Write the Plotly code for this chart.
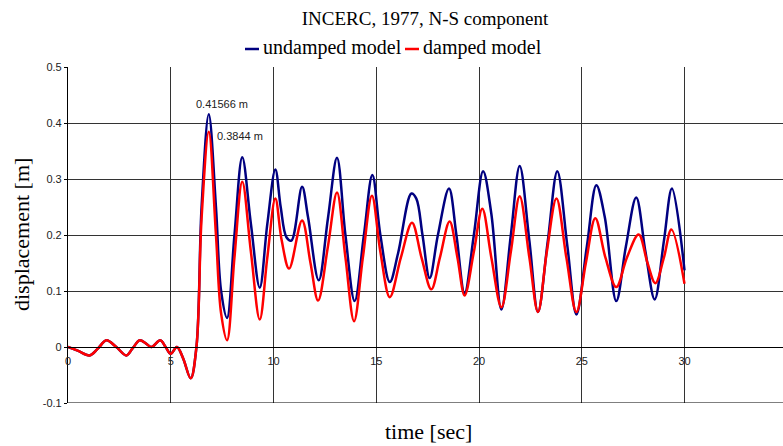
import plotly.graph_objects as go

# time [s] and displacement [m]
t_undamped = [0, 0.5, 1.05, 1.45, 1.87, 2.35, 2.84, 3.15, 3.49, 3.8, 4.06, 4.49, 4.75, 5.0, 5.3, 5.6, 5.97,
              6.25, 6.5, 6.85, 7.2, 7.45, 7.74, 8.1, 8.48, 8.9, 9.33, 9.7, 10.09, 10.35, 10.63, 10.87,
              11.39, 11.68, 12.2, 12.65, 13.09, 13.5, 13.95, 14.4, 14.81, 15.2, 15.66, 16.06, 16.71,
              16.95, 17.25, 17.6, 18.0, 18.54, 18.9, 19.3, 19.75, 20.2, 20.6, 21.09, 21.55, 21.98,
              22.45, 22.87, 23.35, 23.81, 24.3, 24.74, 25.25, 25.71, 26.12, 26.68, 27.15, 27.65,
              28.1, 28.55, 29.0, 29.39, 30.0]
d_undamped = [0, -0.007, -0.015, -0.003, 0.012, 0.0, -0.015, -0.002, 0.012, 0.006, 0.0, 0.012, 0.0, -0.012,
              0.0, -0.02, -0.056, 0.0, 0.25, 0.41566, 0.25, 0.1, 0.052, 0.2, 0.339, 0.22, 0.106, 0.22,
              0.317, 0.25, 0.196, 0.19, 0.286, 0.232, 0.119, 0.23, 0.338, 0.2, 0.082, 0.2, 0.307, 0.2,
              0.116, 0.167, 0.274, 0.265, 0.2, 0.123, 0.2, 0.283, 0.2, 0.096, 0.2, 0.314, 0.238, 0.067,
              0.2, 0.323, 0.19, 0.0625, 0.19, 0.314, 0.18, 0.058, 0.18, 0.289, 0.232, 0.082, 0.18,
              0.267, 0.17, 0.085, 0.19, 0.283, 0.137]

t_damped = [0, 0.5, 1.05, 1.45, 1.87, 2.35, 2.84, 3.15, 3.49, 3.8, 4.06, 4.49, 4.75, 5.0, 5.3, 5.6, 5.97,
            6.25, 6.5, 6.85, 7.2, 7.45, 7.74, 8.1, 8.48, 8.9, 9.33, 9.7, 10.09, 10.4, 10.76, 11.39,
            11.8, 12.17, 12.65, 13.09, 13.5, 13.92, 14.35, 14.79, 15.2, 15.66, 16.2, 16.74, 17.2,
            17.68, 18.1, 18.57, 18.95, 19.3, 19.75, 20.16, 20.6, 21.09, 21.55, 21.98, 22.45, 22.87,
            23.3, 23.77, 24.25, 24.74, 25.2, 25.66, 26.15, 26.68, 27.2, 27.77, 28.2, 28.58, 29.0,
            29.36, 30.0]
d_damped = [0, -0.007, -0.015, -0.003, 0.012, 0.0, -0.015, -0.002, 0.012, 0.006, 0.0, 0.012, 0.0, -0.012,
            0.0, -0.02, -0.056, 0.0, 0.23, 0.3844, 0.2, 0.06, 0.012, 0.16, 0.295, 0.17, 0.049, 0.16,
            0.265, 0.19, 0.14, 0.226, 0.15, 0.083, 0.18, 0.276, 0.16, 0.046, 0.16, 0.27, 0.17, 0.089,
            0.16, 0.222, 0.16, 0.103, 0.16, 0.224, 0.16, 0.092, 0.17, 0.247, 0.16, 0.071, 0.17, 0.269,
            0.16, 0.0625, 0.17, 0.265, 0.16, 0.0625, 0.15, 0.230, 0.16, 0.107, 0.16, 0.201, 0.15,
            0.114, 0.16, 0.210, 0.113]

x_ticks = [0, 5, 10, 15, 20, 25, 30]
y_ticks = [-0.1, 0, 0.1, 0.2, 0.3, 0.4, 0.5]
y_ticktext = ["-0.1", "0", "0.1", "0.2", "0.3", "0.4", "0.5"]

BLUE = "#000080"
RED = "#FF0000"
SERIF = "Liberation Serif"
SANS = "Liberation Sans"

W, H = 783, 446
L, R, T, B = 68, 0, 67, 43
PW, PH = W - L - R, H - T - B


def px2paper_x(px):
    return (px - L) / PW


def px2paper_y(py):
    return (H - B - py) / PH


def ann(text, px, py, size, family, xanchor="center", angle=0, color="black"):
    return dict(text=text, x=px2paper_x(px), y=px2paper_y(py), xref="paper", yref="paper",
                xanchor=xanchor, yanchor="middle", showarrow=False, textangle=angle,
                font=dict(family=family, size=size, color=color))


fig = go.Figure()
fig.add_trace(go.Scatter(x=t_undamped, y=d_undamped, mode="lines", name="undamped model",
                         line=dict(color=BLUE, width=2.5, shape="spline", smoothing=1.0),
                         showlegend=False))
fig.add_trace(go.Scatter(x=t_damped, y=d_damped, mode="lines", name="damped model",
                         line=dict(color=RED, width=2.5, shape="spline", smoothing=1.0),
                         showlegend=False))

annotations = [
    dict(text="0.41566 m", x=7.5, y=0.434, xref="x", yref="y", showarrow=False,
         xanchor="center", yanchor="middle", font=dict(family=SANS, size=11, color="#222")),
    dict(text="0.3844 m", x=8.38, y=0.376, xref="x", yref="y", showarrow=False,
         xanchor="center", yanchor="middle", font=dict(family=SANS, size=11, color="#222")),
    ann("35", 788.6, 362, 11, SANS, color="#222"),
    ann("displacement [m]", 21, 235, 22, SERIF, angle=-90),
    ann("time [sec]", 428, 431, 22, SERIF),
    ann("undamped model", 261, 48, 20, SERIF, xanchor="left"),
    ann("damped model", 421, 48, 20, SERIF, xanchor="left"),
]

shapes = [
    dict(type="line", xref="paper", yref="paper", x0=px2paper_x(245), x1=px2paper_x(259),
         y0=px2paper_y(49), y1=px2paper_y(49), line=dict(color=BLUE, width=2.5)),
    dict(type="line", xref="paper", yref="paper", x0=px2paper_x(405), x1=px2paper_x(419),
         y0=px2paper_y(49), y1=px2paper_y(49), line=dict(color=RED, width=2.5)),
    dict(type="line", xref="paper", yref="y", x0=0, x1=1, y0=-0.1, y1=-0.1,
         line=dict(color="black", width=1.2), layer="above"),
]

fig.update_layout(
    width=W, height=H,
    margin=dict(l=L, r=R, t=T, b=B),
    paper_bgcolor="white", plot_bgcolor="white",
    title=dict(text="INCERC, 1977, N-S component", x=425 / W, xref="container", xanchor="center",
               y=1 - 18 / H, yref="container", yanchor="middle",
               font=dict(family=SERIF, size=19, color="black")),
    xaxis=dict(range=[0, (W - L - R) / 20.55], tickvals=x_ticks, showgrid=True,
               gridcolor="#333", gridwidth=1, zeroline=False, showline=True, linecolor="black",
               linewidth=1.2, anchor="free", position=1 / 6, ticks="outside", ticklen=4,
               tickcolor="rgba(0,0,0,0)", tickfont=dict(family=SANS, size=11, color="#222")),
    yaxis=dict(range=[-0.1, 0.5], tickvals=y_ticks, ticktext=y_ticktext, showgrid=True,
               gridcolor="#333", gridwidth=1, zeroline=False, showline=True, linecolor="black",
               linewidth=1.2, ticks="outside", ticklen=3, tickcolor="black",
               tickfont=dict(family=SANS, size=11, color="#222")),
    annotations=annotations,
    shapes=shapes,
)

fig.write_html("out.html")
